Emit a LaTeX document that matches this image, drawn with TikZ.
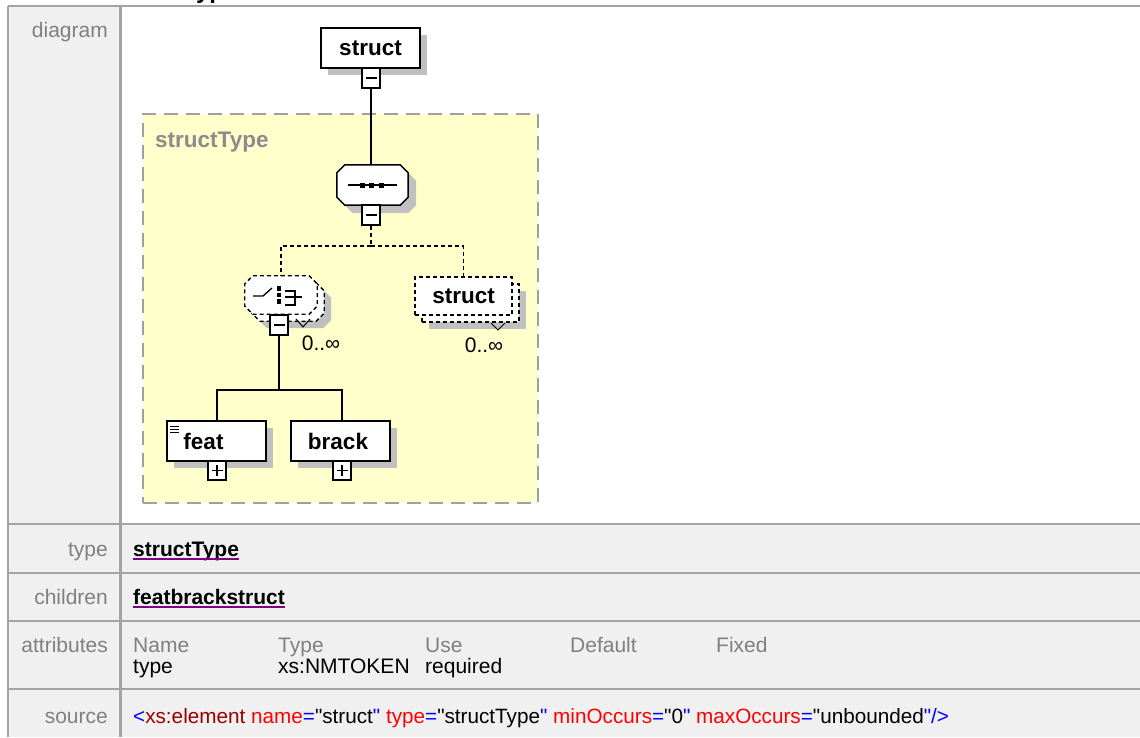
\documentclass[tikz,border=0pt]{standalone}
\usepackage{fontspec}
\setmainfont{Liberation Sans}[Ligatures=TeXOff]
\usetikzlibrary{shadows}

\definecolor{cellgray}{HTML}{F0F0F0}
\definecolor{rulegray}{HTML}{A4A4A4}
\definecolor{labelgray}{HTML}{808080}
\definecolor{shadowgray}{HTML}{C0C0C0}
\definecolor{typeyellow}{HTML}{FFFFCC}
\definecolor{typeframe}{HTML}{A0A0A0}
\definecolor{typelabel}{HTML}{8C8C8C}
\definecolor{srcblue}{HTML}{0000FF}
\definecolor{srcmaroon}{HTML}{990000}
\definecolor{srcred}{HTML}{FF0000}
\definecolor{linkpurple}{HTML}{800080}

\newcommand{\tabfont}{\fontsize{21}{25}\selectfont}
\newcommand{\diafont}{\fontsize{22.5}{26}\selectfont\bfseries}
\newcommand{\dq}{\char"22\relax}
\newcommand{\blu}[1]{\textcolor{srcblue}{#1}}
\newcommand{\attr}[1]{\textcolor{srcred}{#1}}
% octagon outline around a (plain) node
\newcommand{\octpath}[1]{([xshift=8pt]#1.north west) -- ([xshift=-8pt]#1.north east) -- ([yshift=-8pt]#1.north east) -- ([yshift=8pt]#1.south east) -- ([xshift=-8pt]#1.south east) -- ([xshift=8pt]#1.south west) -- ([yshift=8pt]#1.south west) -- ([yshift=-8pt]#1.north west) -- cycle}

\begin{document}
\begin{tikzpicture}[x=1pt,y=-1pt,
  shade7/.style={drop shadow={shadow xshift=7pt,shadow yshift=-7pt,fill=shadowgray,opacity=1}},
  elbox/.style={draw,line width=1.5pt,fill=white,minimum width=99pt,minimum height=40pt,inner sep=0pt,font=\diafont,shade7},
  signbox/.style={draw,line width=1.3pt,fill=white,minimum width=18pt,minimum height=20pt,inner sep=0pt},
  sign/.style={line width=1.3pt},
  ghost/.style={inner sep=0pt,minimum width=#1},
  dsh/.style={dash pattern=on 4pt off 3pt,line width=1.3pt},
  conn/.style={line width=1.4pt},
  lab/.style={anchor=base east,inner sep=0pt,font=\tabfont,text=labelgray},
  val/.style={anchor=base west,inner sep=0pt,font=\tabfont},
  link/.style={anchor=base west,inner sep=0pt,font=\tabfont\bfseries},
  occ/.style={inner sep=0pt,font=\fontsize{21}{24}\selectfont},
  rule/.style={draw=rulegray,line width=2.5pt}
]
\useasboundingbox (0,0) rectangle (1140,737);
\fill[white] (0,0) rectangle (1140,737);

% heading above the table (mostly cut off)
\begin{scope}
  \clip (0,0) rectangle (1140,5);
  \node[anchor=base west,inner sep=0pt,font=\fontsize{24}{28}\selectfont\bfseries] (heading) at (19,-2) {element structType};
\end{scope}

% ---------- table ----------
\fill[cellgray] (8,6) rectangle (1140,737);
\fill[white] (121,7) rectangle (1140,523);
\draw[rule] (8,6) -- (1140,6);
\draw[rule] (8,6) -- (8,737);
\draw[rule] (120.5,6) -- (120.5,737);
\foreach \yy in {524,573,621,689} \draw[rule] (8,\yy) -- (1140,\yy);

\node[lab] (ldiagram) at (108,37) {diagram};
\node[lab] (ltype) at (108,556) {type};
\node[lab] (lchildren) at (108,604) {children};
\node[lab] (lattr) at (108,652) {attributes};
\node[lab] (lsource) at (108,723) {source};

\node[link] (typelink) at (133,556) {structType};
\draw[linkpurple,line width=1.1pt] ([yshift=-3pt]typelink.base west) -- ([yshift=-3pt]typelink.base east);
\node[link] (childlink) at (133,604) {featbrackstruct};
\draw[linkpurple,line width=1.1pt] ([yshift=-3pt]childlink.base west) -- ([yshift=-3pt]childlink.base east);

\node[val,text=labelgray] (hname) at (133,652) {Name};
\node[val,text=labelgray] (htype) at (278,652) {Type};
\node[val,text=labelgray] (huse) at (425,652) {Use};
\node[val,text=labelgray] (hdefault) at (570,652) {Default};
\node[val,text=labelgray] (hfixed) at (716,652) {Fixed};
\node[val] (aname) at (133,673) {type};
\node[val] (atype) at (278,673) {xs:NMTOKEN};
\node[val] (ause) at (425,673) {required};

\node[val,font=\fontsize{20.7}{25}\selectfont] (src) at (133,723) {\blu{<}\textcolor{srcmaroon}{xs:element} \attr{name}\blu{=}\dq struct\blu{\dq} \attr{type}\blu{=}\dq structType\blu{\dq} \attr{minOccurs}\blu{=}\dq 0\blu{\dq} \attr{maxOccurs}\blu{=}\dq unbounded\blu{\dq/>}};

% ---------- diagram ----------
% complex type frame
\node[draw=typeframe,fill=typeyellow,line width=2pt,dash pattern=on 14pt off 8pt,
      minimum width=395pt,minimum height=389pt,inner sep=0pt] (typeframe) at (340.5,308.5) {};
\node[anchor=west,inner sep=0pt,font=\diafont,text=typelabel] (typename) at (155,142) {structType};

% root element
\node[elbox] (root) at (370.5,48) {struct};
\node[signbox] (rootm) at (371,78) {};
\draw[sign] ([xshift=-5.5pt]rootm.center) -- ([xshift=5.5pt]rootm.center);

% sequence compositor
\node[ghost=71pt,minimum height=40pt] (seqsh) at (380.5,193) {};
\node[ghost=71pt,minimum height=40pt] (seq) at (372.5,185) {};
\fill[shadowgray] \octpath{seqsh};
\draw[line width=1.5pt,fill=white] \octpath{seq};
\begin{scope}[shift={(seq.center)}]
  \draw[line width=1.3pt] (-25,0) -- (24,0);
  \foreach \dx in {-10.5,-1.5,8.5} \fill (\dx-2.5,-2.5) rectangle (\dx+2.5,2.5);
\end{scope}
\node[signbox] (seqm) at (371,215) {};
\draw[sign] ([xshift=-5.5pt]seqm.center) -- ([xshift=5.5pt]seqm.center);
\draw[conn] (rootm.south) -- (seq.north -| rootm.south);

% choice compositor (0..unbounded)
\node[ghost=72pt,minimum height=38pt] (choicesh) at (295,309) {};
\node[ghost=72pt,minimum height=38pt] (choiceback) at (288,302) {};
\node[ghost=72pt,minimum height=38pt] (choice) at (281,295) {};
\fill[shadowgray] \octpath{choicesh};
\draw[dsh,fill=white] \octpath{choiceback};
\draw[dsh,fill=white] \octpath{choice};
\begin{scope}[shift={(choice.center)}]
  \draw[line width=1.3pt] (-28,1) -- (-18,1) -- (-9,-7);
  \foreach \dy in {-6.5,0,6.5} \fill (-4.5,\dy-2.2) rectangle (-0.5,\dy+2.2);
  \draw[line width=1.3pt] (4,-4) -- (14,-4) -- (14,10) -- (4,10);
  \draw[line width=1.3pt] (4,2) -- (21,2);
\end{scope}
\draw[line width=1pt] (296,319) -- (303,327) -- (310,319);
\node[signbox] (choicem) at (279,325) {};
\draw[sign] ([xshift=-5.5pt]choicem.center) -- ([xshift=5.5pt]choicem.center);
\node[occ] (choiceocc) at (321,343) {0..∞};

% struct reference (0..unbounded)
\node[draw,dsh,fill=white,minimum width=97pt,minimum height=38pt,inner sep=0pt,shade7] (structback) at (470.5,303) {};
\node[draw,dsh,fill=white,minimum width=97pt,minimum height=38pt,inner sep=0pt,font=\diafont] (struct) at (463.5,296) {struct};
\draw[line width=1pt] (491,323) -- (498,330) -- (505,323);
\node[occ] (structocc) at (484,345) {0..∞};

% dashed branches of the sequence
\coordinate (seqjoin) at (371,246);
\draw[dsh] (seqm.south) -- (seqjoin);
\draw[dsh] (seqjoin) -| (choice.north);
\draw[dsh] (seqjoin) -| (struct.north);

% choice children
\node[elbox] (feat) at (216.5,441) {\hspace*{-26pt}feat};
\draw[line width=1pt] (170,426) -- (179,426) (170,429) -- (179,429) (170,432) -- (179,432);
\node[signbox,minimum height=19pt] (featp) at (217,470.5) {};
\draw[sign] ([xshift=-5.5pt]featp.center) -- ([xshift=5.5pt]featp.center)
            ([yshift=-5.5pt]featp.center) -- ([yshift=5.5pt]featp.center);
\node[elbox] (brack) at (340.5,441) {\hspace*{-5pt}brack};
\node[signbox,minimum height=19pt] (brackp) at (342,470.5) {};
\draw[sign] ([xshift=-5.5pt]brackp.center) -- ([xshift=5.5pt]brackp.center)
            ([yshift=-5.5pt]brackp.center) -- ([yshift=5.5pt]brackp.center);

\coordinate (choicejoin) at (279,390);
\draw[conn] (choicem.south) -- (choicejoin);
\draw[conn] (choicejoin) -| ([xshift=0.5pt]feat.north);
\draw[conn] (choicejoin) -| ([xshift=1.5pt]brack.north);
\end{tikzpicture}
\end{document}
